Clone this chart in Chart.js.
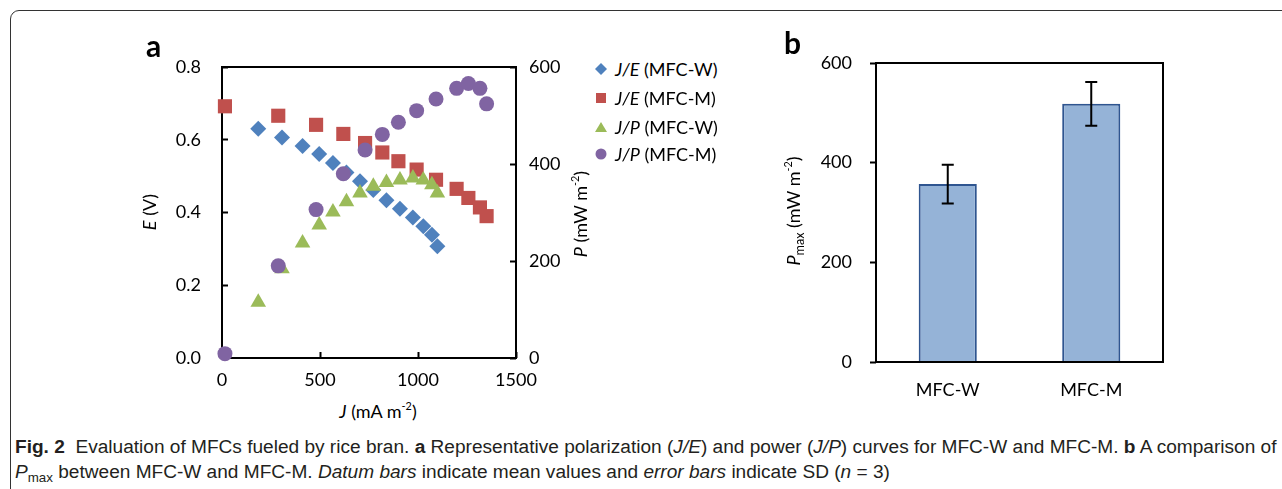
<!DOCTYPE html>
<html>
<head>
<meta charset="utf-8">
<script src="https://cdn.jsdelivr.net/npm/chart.js@4.4.1/dist/chart.umd.min.js"></script>
<style>
  body { margin: 0; width: 1282px; height: 489px; overflow: hidden; background: #fff; position: relative; font-family: Lato, "Open Sans", sans-serif; color: #000; }
  .kader { position: absolute; left: 10px; top: 10px; width: 1320px; height: 520px; border: 1px solid #333; border-top-left-radius: 9px; }
  .doek { position: absolute; }
  .tekst { position: absolute; font-size: 18px; white-space: nowrap; line-height: 22px; }
  .midden { transform: translate(-50%, -50%); }
  .draai { transform: translate(-50%, -50%) rotate(-90deg); }
  .paneel { position: absolute; font-weight: bold; font-size: 30px; line-height: 30px; }
  .legrij { position: absolute; left: 592px; height: 22px; display: flex; align-items: center; font-size: 18px; white-space: nowrap; }
  .legrij svg { width: 18px; height: 18px; margin-right: 5px; }
  sup { font-size: 0.6em; vertical-align: 0.7em; line-height: 0; }
  sub { font-size: 0.7em; vertical-align: -0.35em; line-height: 0; }
  .bijschrift { position: absolute; left: 15px; font-family: "Liberation Sans Narrow", "Liberation Sans", sans-serif; font-size: 18px; line-height: 20px; white-space: nowrap; transform-origin: left center; color: #231f20; }
</style>
</head>
<body>
<div class="kader"></div>

<div class="doek" style="left:150px; top:40px;"><canvas id="grafiekA" width="420" height="350"></canvas></div>
<div class="doek" style="left:800px; top:40px;"><canvas id="grafiekB" width="400" height="380"></canvas></div>

<div class="paneel" style="left:146px; top:30px;">a</div>
<div class="paneel" style="left:784px; top:27px;">b</div>

<div class="tekst draai" style="left:149px; top:212px;"><i>E</i> (V)</div>
<div class="tekst draai" style="left:580px; top:214px;"><i>P</i> (mW m<sup>-2</sup>)</div>
<div class="tekst midden" style="left:378px; top:411px;"><i>J</i> (mA m<sup>-2</sup>)</div>
<div class="tekst draai" style="left:793px; top:211px;"><i>P</i><sub>max</sub> (mW m<sup>-2</sup>)</div>

<div class="legrij" style="top:58px;"><svg viewBox="0 0 18 18"><polygon points="9,3 15,9 9,15 3,9" fill="#4F81BD"/></svg><span><i>J/E</i> (MFC-W)</span></div>
<div class="legrij" style="top:87px;"><svg viewBox="0 0 18 18"><rect x="4" y="4" width="10" height="10" fill="#C0504D"/></svg><span><i>J/E</i> (MFC-M)</span></div>
<div class="legrij" style="top:116px;"><svg viewBox="0 0 18 18"><polygon points="9,4 15,14 3,14" fill="#9BBB59"/></svg><span><i>J/P</i> (MFC-W)</span></div>
<div class="legrij" style="top:143px;"><svg viewBox="0 0 18 18"><circle cx="9" cy="9" r="5.5" fill="#8064A2"/></svg><span><i>J/P</i> (MFC-M)</span></div>

<div class="bijschrift" id="regel1" style="top:437px;"><b>Fig. 2</b>&nbsp; Evaluation of MFCs fueled by rice bran. <b>a</b> Representative polarization (<i>J/E</i>) and power (<i>J/P</i>) curves for MFC-W and MFC-M. <b>b</b> A comparison of</div>
<div class="bijschrift" id="regel2" style="top:462px;"><i>P</i><sub>max</sub> between MFC-W and MFC-M. <i>Datum bars</i> indicate mean values and <i>error bars</i> indicate SD (<i>n</i> = 3)</div>

<script>
// Stroomdichtheid J (mA m-2), spanning E (V) en vermogen P (mW m-2)
const jW = [185, 306, 411, 496, 566, 635, 704, 772, 839, 908, 974, 1027, 1071, 1099];
const eW = [0.630, 0.606, 0.583, 0.561, 0.536, 0.510, 0.486, 0.462, 0.434, 0.410, 0.386, 0.362, 0.339, 0.307];
const pW = [115, 184, 237, 274, 301, 322, 340, 354, 362, 367, 371, 367, 357, 340];

const jM = [15, 287, 480, 619, 730, 818, 900, 993, 1092, 1197, 1257, 1316, 1350];
const eM = [0.692, 0.666, 0.641, 0.616, 0.591, 0.565, 0.541, 0.518, 0.490, 0.465, 0.440, 0.414, 0.390];
const pM = [9, 190, 306, 380, 429, 461, 486, 510, 534, 556, 566, 556, 524];

// Paneel b: Pmax met standaardafwijking
const reactoren = ['MFC-W', 'MFC-M'];
const pMax = [357, 518];
const pMaxSD = [39, 44];

const xTicks = [0, 500, 1000, 1500];
const eTicks = [0, 0.2, 0.4, 0.6, 0.8];
const pTicks = [0, 200, 400, 600];

const letter = { family: 'Lato', size: 18 };

function punten(xs, ys) {
    return xs.map((x, i) => ({ x: x, y: ys[i] }));
}

// Kader rond het grafiekgebied
function kaderPlugin(naWaarden) {
    const teken = (chart) => {
        const a = chart.chartArea, ctx = chart.ctx;
        ctx.save();
        ctx.strokeStyle = '#000';
        ctx.lineWidth = 2;
        ctx.strokeRect(a.left, a.top, a.right - a.left, a.bottom - a.top);
        ctx.restore();
    };
    return naWaarden ? { id: 'kader', afterDatasetsDraw: teken } : { id: 'kader', beforeDatasetsDraw: teken };
}

// Foutbalken voor paneel b
const foutbalkPlugin = {
    id: 'foutbalken',
    afterDatasetsDraw(chart) {
        const meta = chart.getDatasetMeta(0), y = chart.scales.y, ctx = chart.ctx;
        ctx.save();
        ctx.strokeStyle = '#000';
        ctx.lineWidth = 2;
        meta.data.forEach((balk, i) => {
            const boven = y.getPixelForValue(pMax[i] + pMaxSD[i]);
            const onder = y.getPixelForValue(pMax[i] - pMaxSD[i]);
            ctx.beginPath();
            ctx.moveTo(balk.x, boven); ctx.lineTo(balk.x, onder);
            ctx.moveTo(balk.x - 6, boven); ctx.lineTo(balk.x + 6, boven);
            ctx.moveTo(balk.x - 6, onder); ctx.lineTo(balk.x + 6, onder);
            ctx.stroke();
        });
        ctx.restore();
    }
};

function vasteTicks(waarden) {
    return (schaal) => { schaal.ticks = waarden.map(v => ({ value: v })); };
}

function tekenPolarisatieGrafiek() {
    const ctx = document.getElementById('grafiekA').getContext('2d');
    new Chart(ctx, {
        type: 'scatter',
        data: {
            datasets: [
                { label: 'J/E (MFC-W)', data: punten(jW, eW), yAxisID: 'y', pointStyle: 'rectRot', pointRadius: 8, backgroundColor: '#4F81BD', borderWidth: 0, order: 4, clip: false },
                { label: 'J/E (MFC-M)', data: punten(jM, eM), yAxisID: 'y', pointStyle: 'rect', pointRadius: 10, backgroundColor: '#C0504D', borderWidth: 0, order: 3, clip: false },
                { label: 'J/P (MFC-W)', data: punten(jW, pW), yAxisID: 'y1', pointStyle: 'triangle', pointRadius: 9, backgroundColor: '#9BBB59', borderWidth: 0, order: 2, clip: false },
                { label: 'J/P (MFC-M)', data: punten(jM, pM), yAxisID: 'y1', pointStyle: 'circle', pointRadius: 7.5, backgroundColor: '#8064A2', borderWidth: 0, order: 1, clip: false }
            ]
        },
        options: {
            responsive: false,
            animation: false,
            events: [],
            layout: { padding: { top: 27, left: 0, right: 0, bottom: 0 } },
            plugins: { legend: { display: false }, tooltip: { enabled: false } },
            scales: {
                x: {
                    type: 'linear', min: 0, max: 1500,
                    afterBuildTicks: vasteTicks(xTicks),
                    ticks: { color: '#000', font: letter, padding: 17, maxRotation: 0, callback: v => String(v) },
                    grid: { drawOnChartArea: false, tickLength: -6, tickWidth: 2, color: '#000' },
                    border: { display: false },
                    afterFit: s => { s.height = 32; s.paddingLeft = 0; s.paddingRight = 0; }
                },
                y: {
                    position: 'left', min: 0, max: 0.8,
                    afterBuildTicks: vasteTicks(eTicks),
                    ticks: { color: '#000', font: letter, padding: 27, callback: v => v.toFixed(1) },
                    grid: { drawOnChartArea: false, tickLength: -6, tickWidth: 2, color: '#000' },
                    border: { display: false },
                    afterFit: s => { s.width = 72; s.paddingTop = 0; s.paddingBottom = 0; }
                },
                y1: {
                    position: 'right', min: 0, max: 600,
                    afterBuildTicks: vasteTicks(pTicks),
                    ticks: { color: '#000', font: letter, padding: 19, callback: v => String(v) },
                    grid: { drawOnChartArea: false, tickLength: -6, tickWidth: 2, color: '#000' },
                    border: { display: false },
                    afterFit: s => { s.width = 54; s.paddingTop = 0; s.paddingBottom = 0; }
                }
            }
        },
        plugins: [kaderPlugin(false)]
    });
}

function tekenPmaxGrafiek() {
    const ctx = document.getElementById('grafiekB').getContext('2d');
    new Chart(ctx, {
        type: 'bar',
        data: {
            labels: reactoren,
            datasets: [{ label: 'Pmax', data: pMax, backgroundColor: '#95B3D7', borderColor: '#2F5590', borderWidth: 2, categoryPercentage: 1, barPercentage: 0.405 }]
        },
        options: {
            responsive: false,
            animation: false,
            events: [],
            layout: { padding: { top: 23, left: 0, right: 37, bottom: 0 } },
            plugins: { legend: { display: false }, tooltip: { enabled: false } },
            scales: {
                x: {
                    ticks: { color: '#000', font: letter, padding: 9 },
                    grid: { display: false },
                    border: { display: false },
                    afterFit: s => { s.height = 58; s.paddingLeft = 0; s.paddingRight = 0; }
                },
                y: {
                    min: 0, max: 600,
                    afterBuildTicks: vasteTicks(pTicks),
                    ticks: { color: '#000', font: letter, padding: 18, callback: v => String(v) },
                    grid: { drawOnChartArea: false, tickLength: 6, tickWidth: 2, color: '#000' },
                    border: { display: false },
                    afterFit: s => { s.width = 76; s.paddingTop = 0; s.paddingBottom = 0; }
                }
            }
        },
        plugins: [kaderPlugin(true), foutbalkPlugin]
    });
}

// Bijschrift op breedte brengen
function schaalBijschrift() {
    const r1 = document.getElementById('regel1');
    const r2 = document.getElementById('regel2');
    const f = 1262 / r1.offsetWidth;
    r1.style.transform = 'scaleX(' + f + ')';
    r2.style.transform = 'scaleX(' + f + ')';
}

tekenPolarisatieGrafiek();
tekenPmaxGrafiek();
schaalBijschrift();
</script>
</body>
</html>
